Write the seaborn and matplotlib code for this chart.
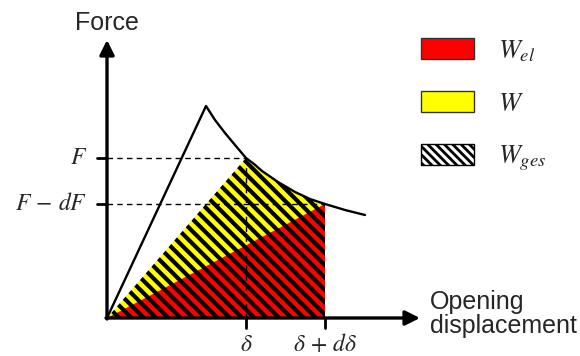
import numpy as np
import matplotlib.pyplot as plt
import seaborn as sns
from matplotlib.patches import Polygon, Patch
from matplotlib.collections import LineCollection

# load curve: linear rise to the peak, then softening branch
load_x = [0.0, 0.99, 1.08, 1.18, 1.28, 1.39, 1.47, 1.55, 1.71, 1.88, 2.03, 2.18, 2.38, 2.58]
load_y = [0.0, 2.12, 1.98, 1.85, 1.73, 1.60, 1.54, 1.47, 1.36, 1.26, 1.19, 1.14, 1.08, 1.03]

disp_ticks = [1.39, 2.18]
disp_labels = [r"$\delta$", r"$\delta\,+\,d\delta$"]
force_ticks = [1.60, 1.14]
force_labels = [r"$F$", r"$F\,-\,dF$"]

legend_labels = [r"$W_{el}$", r"$W$", r"$W_{ges}$"]
legend_colors = ["#FF0000", "#FFFF00", "white"]

sns.set_theme(style="white")
plt.rcParams["font.family"] = ["Liberation Sans", "DejaVu Sans"]
plt.rcParams["mathtext.fontset"] = "stix"
plt.rcParams["hatch.linewidth"] = 2.0

fig = plt.figure(figsize=(5.8, 3.56), dpi=100)
ax = fig.add_axes([0, 0, 1, 1])
ax.set_xlim(-1.07, 4.73)
ax.set_ylim(-0.38, 3.18)
ax.axis("off")

d, dd = disp_ticks
f, fd = force_ticks
seg = [(x, y) for x, y in zip(load_x, load_y) if d <= x <= dd]

# energy areas
ax.add_patch(Polygon([(0, 0)] + seg, closed=True, fc="#FFFF00", ec="none", zorder=1))
ax.add_patch(Polygon([(0, 0), (dd, 0), (dd, fd)], closed=True, fc="#FF0000", ec="none", zorder=1))

# hatching of the total area
hp = Polygon([(0, 0)] + seg + [(dd, 0)], closed=True, fc="none", ec="none")
ax.add_patch(hp)
segs = [[(c - 3, 3), (c + 1, -1)] for c in np.arange(0.0, 3.6, 0.123)]
lc = LineCollection(segs, colors="black", linewidths=3.0, zorder=2)
lc.set_clip_path(hp)
ax.add_collection(lc)

# dashed helper lines
dash = dict(color="black", lw=1.0, dashes=(4, 3), zorder=3)
ax.plot([0, d], [f, f], **dash)
ax.plot([d, d], [f, 0], **dash)
ax.plot([0, dd], [fd, fd], **dash)

# the load-displacement curve
sns.lineplot(x=load_x, y=load_y, color="black", lw=1.7, sort=False,
             estimator=None, ax=ax, zorder=4)

# axes with arrows
arrow = dict(arrowstyle="-|>", lw=2.4, color="black", mutation_scale=22,
             shrinkA=0, shrinkB=0)
ax.annotate("", xy=(0, 2.78), xytext=(0, -0.01), arrowprops=arrow, zorder=5)
ax.annotate("", xy=(3.13, 0), xytext=(-0.01, 0), arrowprops=arrow, zorder=5)

for y, lab in zip(force_ticks, force_labels):
    ax.plot([-0.10, 0], [y, y], color="black", lw=2.0)
    ax.text(-0.20, y, lab, ha="right", va="center", fontsize=17)
for x, lab in zip(disp_ticks, disp_labels):
    ax.plot([x, x], [0, -0.10], color="black", lw=2.0)
    ax.text(x, -0.27, lab, ha="center", va="center", fontsize=17)

ax.text(0.0, 2.95, "Force", ha="center", va="center", fontsize=18)
ax.text(3.23, 0.04, "Opening\ndisplacement", ha="left", va="center",
        fontsize=18, linespacing=1.0)

handles = [Patch(facecolor=c, edgecolor="#333333", lw=1.0) for c in legend_colors]
handles[2] = Patch(facecolor="white", edgecolor="black", lw=1.0, hatch="\\\\\\\\")
ax.legend(handles, legend_labels, loc="upper left",
          bbox_to_anchor=(421 / 580, 1 - 38 / 356), frameon=False,
          fontsize=19, handlelength=2.0, handleheight=0.85,
          labelspacing=1.05, handletextpad=0.9, borderpad=0, borderaxespad=0)

fig.savefig("out.png", dpi=100)
